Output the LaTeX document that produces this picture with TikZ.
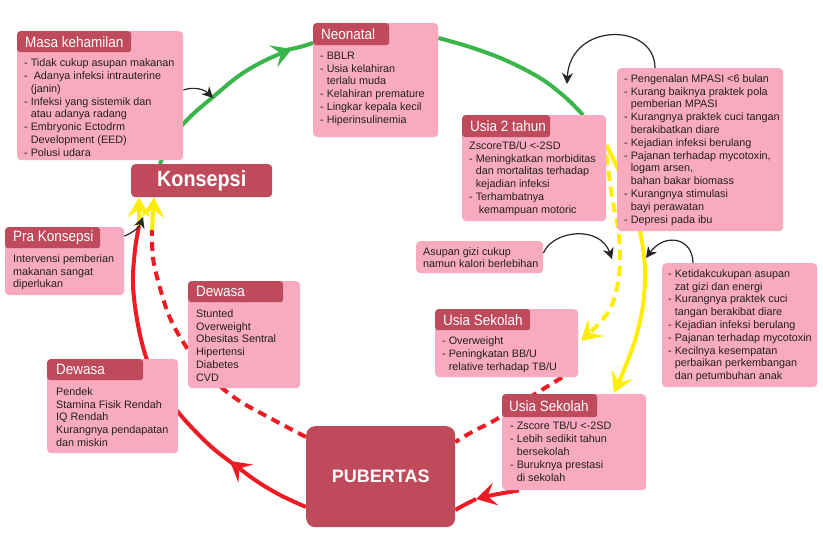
\documentclass[tikz,border=0pt]{standalone}
\usepackage{fontspec}
\setmainfont{Liberation Sans}
\newfontfamily\headfont[FakeStretch=0.9]{Liberation Sans}
\usetikzlibrary{arrows.meta}
\pgfdeclarelayer{bg}
\pgfsetlayers{bg,main}
\definecolor{boxpink}{RGB}{247,170,192}
\definecolor{hdr}{RGB}{190,74,92}
\definecolor{txtdark}{RGB}{35,31,32}
\definecolor{cgreen}{RGB}{57,181,74}
\definecolor{cyellow}{RGB}{255,238,0}
\definecolor{cred}{RGB}{237,28,36}
\newcommand\myind{\hphantom{-\ }}
\newcommand\fst{\rule{0pt}{9pt}}
\begin{document}
\begin{tikzpicture}[x=1pt,y=-1pt,
  pinkbox/.style={fill=boxpink, rounded corners=4pt, anchor=north west, inner sep=0pt, draw=none},
  hdrbox/.style={fill=hdr, rounded corners=3pt, anchor=north west, inner sep=0pt},
  hdrtxt/.style={anchor=west, inner sep=0pt, text=white, font=\headfont\fontsize{15}{16}\selectfont},
  bodytxt/.style={anchor=north west, inner sep=0pt, align=left, text=txtdark, font=\fontsize{10.8}{12.8}\selectfont},
  bigbox/.style={fill=hdr, anchor=north west, inner sep=0pt, text=white},
  bigtip/.style={-{Stealth[length=20pt,width=23pt,inset=8pt]}},
  greenln/.style={draw=cgreen, line width=4pt},
  yellowln/.style={draw=cyellow, line width=4pt},
  redln/.style={draw=cred, line width=4pt},
  reddash/.style={draw=cred, line width=4pt, dash pattern=on 9pt off 6pt},
  yellowdash/.style={draw=cyellow, line width=4pt, dash pattern=on 10pt off 6pt},
  blackarr/.style={draw=black!85, line width=1.2pt, -{Stealth[length=11pt,width=11pt,inset=3.5pt]}}
]
\useasboundingbox (0,0) rectangle (823,538);

% ---------- boxes ----------
\node[pinkbox, minimum width=166pt, minimum height=129pt] (masa) at (17,31) {};
\node[hdrbox, minimum width=114pt, minimum height=21pt] (masaH) at (17,31) {};
\node[hdrtxt] (masaHT) at ([xshift=8pt]masaH.west) {Masa kehamilan};
\node[bodytxt] (masaT) at (24,57.5) {\fst- Tidak cukup asupan makanan\\- \ Adanya infeksi intrauterine\\\myind(janin)\\- Infeksi yang sistemik dan\\\myind atau adanya radang\\- Embryonic Ectodrm\\\myind Development (EED)\\- Polusi udara};

\node[pinkbox, minimum width=125pt, minimum height=114pt] (neo) at (313,23) {};
\node[hdrbox, minimum width=76pt, minimum height=22pt] (neoH) at (313,23) {};
\node[hdrtxt] (neoHT) at ([xshift=8pt]neoH.west) {Neonatal};
\node[bodytxt] (neoT) at (320,50) {\fst- BBLR\\- Usia kelahiran\\\myind terlalu muda\\- Kelahiran premature\\- Lingkar kepala kecil\\- Hiperinsulinemia};

\node[pinkbox, minimum width=144pt, minimum height=106pt] (usia2) at (462,115) {};
\node[hdrbox, minimum width=88pt, minimum height=22pt] (usia2H) at (462,115) {};
\node[hdrtxt] (usia2HT) at ([xshift=8pt]usia2H.west) {Usia 2 tahun};
\node[bodytxt] (usia2T) at (469,140) {\fst ZscoreTB/U <-2SD\\- Meningkatkan morbiditas\\\myind dan mortalitas terhadap\\\myind kejadian infeksi\\- Terhambatnya\\\myind\ kemampuan motoric};

\node[pinkbox, minimum width=166pt, minimum height=163pt] (mpasi) at (617,68) {};
\node[bodytxt] (mpasiT) at (624,73) {\fst- Pengenalan MPASI <6 bulan\\- Kurang baiknya praktek pola\\\myind pemberian MPASI\\- Kurangnya praktek cuci tangan\\\myind berakibatkan diare\\- Kejadian infeksi berulang\\- Pajanan terhadap mycotoxin,\\\myind logam arsen,\\\myind bahan bakar biomass\\- Kurangnya stimulasi\\\myind bayi perawatan\\- Depresi pada ibu};

\node[pinkbox, minimum width=155pt, minimum height=124pt] (right2) at (662,263) {};
\node[bodytxt] (right2T) at (668,268) {\fst- Ketidakcukupan asupan\\\myind zat gizi dan energi\\- Kurangnya praktek cuci\\\myind tangan berakibat diare\\- Kejadian infeksi berulang\\- Pajanan terhadap mycotoxin\\- Kecilnya kesempatan\\\myind perbaikan perkembangan\\\myind dan petumbuhan anak};

\node[pinkbox, minimum width=119pt, minimum height=68pt] (pra) at (5,227) {};
\node[hdrbox, minimum width=95pt, minimum height=21pt] (praH) at (5,227) {};
\node[hdrtxt] (praHT) at ([xshift=8pt]praH.west) {Pra Konsepsi};
\node[bodytxt] (praT) at (13,253) {\fst Intervensi pemberian\\makanan sangat\\diperlukan};

\node[pinkbox, minimum width=112pt, minimum height=107pt] (dewmid) at (188,281) {};
\node[hdrbox, minimum width=95pt, minimum height=21pt] (dewmidH) at (188,281) {};
\node[hdrtxt] (dewmidHT) at ([xshift=8pt]dewmidH.west) {Dewasa};
\node[bodytxt] (dewmidT) at (196,308) {\fst Stunted\\Overweight\\Obesitas Sentral\\Hipertensi\\Diabetes\\CVD};

\node[pinkbox, minimum width=131pt, minimum height=94pt] (dewleft) at (47,359) {};
\node[hdrbox, minimum width=96pt, minimum height=21pt] (dewleftH) at (47,359) {};
\node[hdrtxt] (dewleftHT) at ([xshift=9pt]dewleftH.west) {Dewasa};
\node[bodytxt] (dewleftT) at (56,386) {\fst Pendek\\Stamina Fisik Rendah\\IQ Rendah\\Kurangnya pendapatan\\dan miskin};

\node[pinkbox, minimum width=127pt, minimum height=32pt] (asupan) at (416,241) {};
\node[bodytxt, font=\fontsize{10.8}{11.8}\selectfont] (asupanT) at (423,246.5) {\fst Asupan gizi cukup\\namun kalori berlebihan};

\node[pinkbox, minimum width=143pt, minimum height=68pt] (us1) at (435,309) {};
\node[hdrbox, minimum width=95pt, minimum height=21pt] (us1H) at (435,309) {};
\node[hdrtxt] (us1HT) at ([xshift=8pt]us1H.west) {Usia Sekolah};
\node[bodytxt, font=\fontsize{10.8}{13.3}\selectfont] (us1T) at (442,335) {\fst- Overweight\\- Peningkatan BB/U\\\myind relative terhadap TB/U};

\node[pinkbox, minimum width=144pt, minimum height=96pt] (us2) at (502,394) {};
\node[hdrbox, minimum width=95pt, minimum height=23pt] (us2H) at (502,394) {};
\node[hdrtxt] (us2HT) at ([xshift=7pt]us2H.west) {Usia Sekolah};
\node[bodytxt, font=\fontsize{10.8}{13}\selectfont] (us2T) at (510,420) {\fst- Zscore TB/U <-2SD\\- Lebih sedikit tahun\\\myind bersekolah\\- Buruknya prestasi\\\myind di sekolah};

\node[bigbox, rounded corners=4pt, minimum width=141pt, minimum height=33pt, font=\headfont\bfseries\fontsize{22}{24}\selectfont] (konsepsi) at (131,164) {Konsepsi};
\node[bigbox, rounded corners=9pt, minimum width=149pt, minimum height=101pt, font=\bfseries\fontsize{18}{20}\selectfont] (pubertas) at (306,426) {PUBERTAS};

% ---------- connectors (behind boxes) ----------
\begin{pgfonlayer}{bg}
\fill[white] (0,0) rectangle (823,538);
% green: Konsepsi -> Neonatal -> Usia 2 tahun
\coordinate (gA) at (konsepsi.north -| 160,0);
\coordinate (gArr) at (292,49);
\coordinate (gB) at (neo.west |- 0,43);
\draw[greenln, bigtip] plot[smooth, tension=0.6] coordinates {(gA) (172,138) (190,117) (213,97) (240,75) (266,60) (gArr)};
\draw[greenln] plot[smooth] coordinates {(286,50) (300,47) (gB)};
\coordinate (gC) at (neo.east |- 0,38);
\coordinate (gD) at (usia2.north -| 583,0);
\draw[greenln] plot[smooth, tension=0.6] coordinates {(gC) (470,47) (505,60) (540,78) (565,97) (gD)};
% yellow solid: Usia 2 tahun -> Usia Sekolah (lower)
\coordinate (yA) at (usia2.east |- 0,145);
\coordinate (yB) at (614,393);
\draw[yellowln, bigtip] plot[smooth, tension=0.6] coordinates {(yA) (623,180) (635,212) (642,242) (645,272) (643,305) (636,337) (626,365) (yB)};
% yellow dashed: Usia 2 tahun -> Usia Sekolah (upper)
\coordinate (ydA) at (usia2.east |- 0,155);
\coordinate (ydB) at (581,341);
\draw[yellowdash, bigtip] plot[smooth, tension=0.6] coordinates {(ydA) (612,197) (618,228) (620,258) (617,288) (607,314) (ydB)};
% red dashed: Usia Sekolah (upper) -> PUBERTAS -> Konsepsi
\coordinate (rdA) at (us1.south -| 562,0);
\coordinate (rdB) at (pubertas.east |- 0,442);
\draw[reddash] plot[smooth, tension=0.6] coordinates {(rdA) (540,391) (519,404) (497,419) (472,432) (rdB)};
\coordinate (rdC) at (pubertas.west |- 0,437);
\coordinate (rdD) at (152,230);
\draw[reddash] plot[smooth, tension=0.6] coordinates {(rdC) (270,418) (235,398) (205,372) (185,345) (170,318) (160,288) (153,258) (rdD)};
\draw[yellowln, bigtip] (rdD) -- (konsepsi.south -| 154,0);
% red solid: Usia Sekolah (lower) -> PUBERTAS -> Konsepsi
\coordinate (rA) at (us2.south -| 519,0);
\coordinate (rArr1) at (476,499);
\coordinate (rB) at (pubertas.east |- 0,510);
\draw[redln, bigtip] (rA) .. controls (509,492) and (492,495) .. (rArr1);
\draw[redln] (rArr1) .. controls (470,502) and (462,506) .. (rB);
\coordinate (rC) at (pubertas.west |- 0,507);
\coordinate (rArr2) at (230,461);
\draw[redln, bigtip] plot[smooth, tension=0.6] coordinates {(rC) (280,495) (255,480) (rArr2)};
\coordinate (rD) at (139,226);
\draw[redln] plot[smooth, tension=0.6] coordinates {(236,466) (215,450) (197,433) (178,412) (160,388) (147,360) (138,325) (133,285) (135,250) (rD)};
\draw[yellowln, bigtip] (rD) -- (konsepsi.south -| 139,0);
\end{pgfonlayer}

% ---------- black arrows ----------
\coordinate (b1t) at (213,98);
\draw[blackarr] (masa.east |- 0,90) .. controls (195,86) and (205,90) .. (b1t);
\coordinate (b2t) at (567,84);
\draw[blackarr] (mpasi.north -| 655,0) .. controls (655,22) and (570,22) .. (b2t);
\coordinate (b3t) at (612,259);
\draw[blackarr] (asupan.east |- 0,253) .. controls (553,230) and (600,225) .. (b3t);
\coordinate (b4t) at (646,258);
\draw[blackarr] (right2.north -| 693,0) .. controls (693,238) and (665,232) .. (b4t);
\coordinate (b5t) at (143,217);
\draw[blackarr] (pra.east |- 0,236) .. controls (132,233) and (139,228) .. (b5t);
\end{tikzpicture}
\end{document}
